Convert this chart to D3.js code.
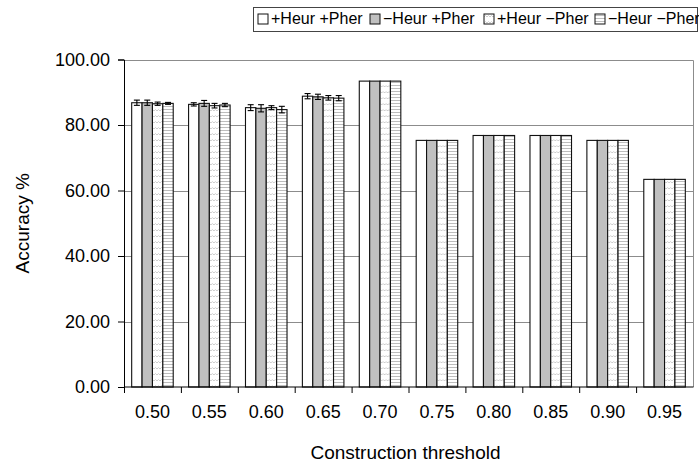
<!DOCTYPE html>
<html>
<head>
<meta charset="utf-8">
<script src="https://cdn.jsdelivr.net/npm/d3@7"></script>
<style>
body { margin: 0; background: #fff; }
svg { display: block; font-family: "Liberation Sans", Arial, sans-serif; }
</style>
</head>
<body>
<svg></svg>
<script>
var width = 699, height = 469;

var thresholds = ["0.50","0.55","0.60","0.65","0.70","0.75","0.80","0.85","0.90","0.95"];
var series = ["+Heur +Pher", "\u2212Heur +Pher", "+Heur \u2212Pher", "\u2212Heur \u2212Pher"];
var heurPher   = [86.8, 86.3, 85.3, 88.8, 93.4, 75.3, 76.8, 76.8, 75.3, 63.4];
var noHeurPher = [86.8, 86.6, 85.1, 88.6, 93.4, 75.3, 76.8, 76.8, 75.3, 63.4];
var heurNoPher = [86.5, 85.9, 85.3, 88.3, 93.4, 75.3, 76.8, 76.8, 75.3, 63.4];
var noHeurNoPher = [86.6, 86.1, 84.7, 88.2, 93.4, 75.3, 76.8, 76.8, 75.3, 63.4];
var errHeurPher   = [0.8, 0.5, 0.9, 0.8, 0, 0, 0, 0, 0, 0];
var errNoHeurPher = [0.8, 0.9, 1.1, 0.8, 0, 0, 0, 0, 0, 0];
var errHeurNoPher = [0.5, 0.7, 0.6, 0.7, 0, 0, 0, 0, 0, 0];
var errNoHeurNoPher = [0.3, 0.5, 1.0, 0.8, 0, 0, 0, 0, 0, 0];
var yTicks = [0, 20, 40, 60, 80, 100];

var values = [heurPher, noHeurPher, heurNoPher, noHeurNoPher];
var errors = [errHeurPher, errNoHeurPher, errHeurNoPher, errNoHeurNoPher];
var fills = ["#ffffff", "#c0c0c0", "url(#wavy)", "url(#hlines)"];

var margin = {left: 124, right: 6, top: 59.5, bottom: 82};
var x0 = d3.scaleBand().domain(thresholds).range([margin.left, width - margin.right]).paddingInner(0).paddingOuter(0);
var x1 = d3.scaleBand().domain(d3.range(4)).range([0, x0.bandwidth()]).paddingInner(0).paddingOuter(0.74);
var y = d3.scaleLinear().domain([0, 100]).range([height - margin.bottom, margin.top]);

var svg = d3.select("svg").attr("width", width).attr("height", height);

var defs = svg.append("defs");
var wavy = defs.append("pattern").attr("id", "wavy").attr("patternUnits", "userSpaceOnUse")
  .attr("width", 6).attr("height", 6);
wavy.append("rect").attr("width", 6).attr("height", 6).attr("fill", "#fff");
wavy.append("path").attr("d", "M0,3 L1.5,1.5 L3,3 L4.5,1.5 L6,3")
  .attr("fill", "none").attr("stroke", "#c8c8c8").attr("stroke-width", 0.9);
var hl = defs.append("pattern").attr("id", "hlines").attr("patternUnits", "userSpaceOnUse")
  .attr("width", 4).attr("height", 3);
hl.append("rect").attr("width", 4).attr("height", 3).attr("fill", "#fff");
hl.append("line").attr("x1", 0).attr("x2", 4).attr("y1", 1.5).attr("y2", 1.5)
  .attr("stroke", "#bdbdbd").attr("stroke-width", 1);

// grid
svg.append("g").selectAll("line").data(yTicks.filter(function(d){ return d > 0 && d < 100; }))
  .enter().append("line")
  .attr("x1", margin.left).attr("x2", width - margin.right)
  .attr("y1", function(d){ return Math.round(y(d)) + 0.5; })
  .attr("y2", function(d){ return Math.round(y(d)) + 0.5; })
  .attr("stroke", "#8c8c8c").attr("stroke-width", 1);

// plot frame top/right
svg.append("path")
  .attr("d", "M" + margin.left + "," + (Math.round(y(100)) + 0.5) + "H" + (width - margin.right + 0.5) + "V" + y(0))
  .attr("fill", "none").attr("stroke", "#8c8c8c");

// bars
var groups = svg.append("g").selectAll("g").data(thresholds).enter().append("g")
  .attr("transform", function(d){ return "translate(" + x0(d) + ",0)"; });

groups.each(function(t, i) {
  var g = d3.select(this);
  for (var s = 0; s < 4; s++) {
    var v = values[s][i];
    g.append("rect")
      .attr("x", x1(s)).attr("y", y(v))
      .attr("width", x1.bandwidth()).attr("height", y(0) - y(v))
      .attr("fill", fills[s]).attr("stroke", "#111").attr("stroke-width", 1.1);
    var e = errors[s][i];
    if (e > 0) {
      var cx = x1(s) + x1.bandwidth() / 2;
      var eb = g.append("g").attr("stroke", "#000").attr("stroke-width", 1.1);
      eb.append("line").attr("x1", cx).attr("x2", cx).attr("y1", y(v + e)).attr("y2", y(v - e));
      eb.append("line").attr("x1", cx - 3).attr("x2", cx + 3).attr("y1", y(v + e)).attr("y2", y(v + e));
      eb.append("line").attr("x1", cx - 3).attr("x2", cx + 3).attr("y1", y(v - e)).attr("y2", y(v - e));
    }
  }
});

// y axis
var yAxis = svg.append("g").attr("transform", "translate(" + margin.left + ",0)")
  .call(d3.axisLeft(y).tickValues(yTicks).tickFormat(d3.format(".2f")).tickSize(6).tickPadding(8));
yAxis.select(".domain").attr("stroke", "#000");
yAxis.selectAll("text").attr("font-size", 18).attr("fill", "#000").attr("font-family", "Liberation Sans, Arial");

// x axis: ticks between categories
var xg = svg.append("g").attr("transform", "translate(0," + y(0) + ")");
xg.append("line").attr("x1", margin.left).attr("x2", width - margin.right + 0.5).attr("stroke", "#000");
xg.selectAll(".tk").data(thresholds).enter().append("line").attr("class", "tk")
  .attr("x1", function(d){ return x0(d) + 0.5; }).attr("x2", function(d){ return x0(d) + 0.5; })
  .attr("y1", 0).attr("y2", 6).attr("stroke", "#000");
xg.selectAll("text").data(thresholds).enter().append("text")
  .attr("x", function(d){ return x0(d) + x0.bandwidth() / 2; })
  .attr("y", 31).attr("text-anchor", "middle").attr("font-size", 18).text(function(d){ return d; });

// axis titles
svg.append("text").attr("x", (margin.left + width - margin.right) / 2 - 3).attr("y", 459)
  .attr("text-anchor", "middle").attr("font-size", 19).text("Construction threshold");
svg.append("text").attr("transform", "translate(29," + ((y(0) + y(100)) / 2) + ") rotate(-90)")
  .attr("text-anchor", "middle").attr("font-size", 19).text("Accuracy %");

// legend
var lg = svg.append("g");
lg.append("rect").attr("x", 253.5).attr("y", 7.5).attr("width", 444).attr("height", 24)
  .attr("fill", "#fff").attr("stroke", "#444");
var itemX = [258, 370, 484, 595];
var items = lg.selectAll(".it").data(series).enter().append("g").attr("class", "it")
  .attr("transform", function(d, i){ return "translate(" + itemX[i] + ",14)"; });
items.append("rect").attr("width", 10).attr("height", 10)
  .attr("fill", function(d, i){ return fills[i]; }).attr("stroke", "#111");
items.append("text").attr("x", 13).attr("y", 10).attr("font-size", 16).text(function(d){ return d; });
</script>
</body>
</html>
